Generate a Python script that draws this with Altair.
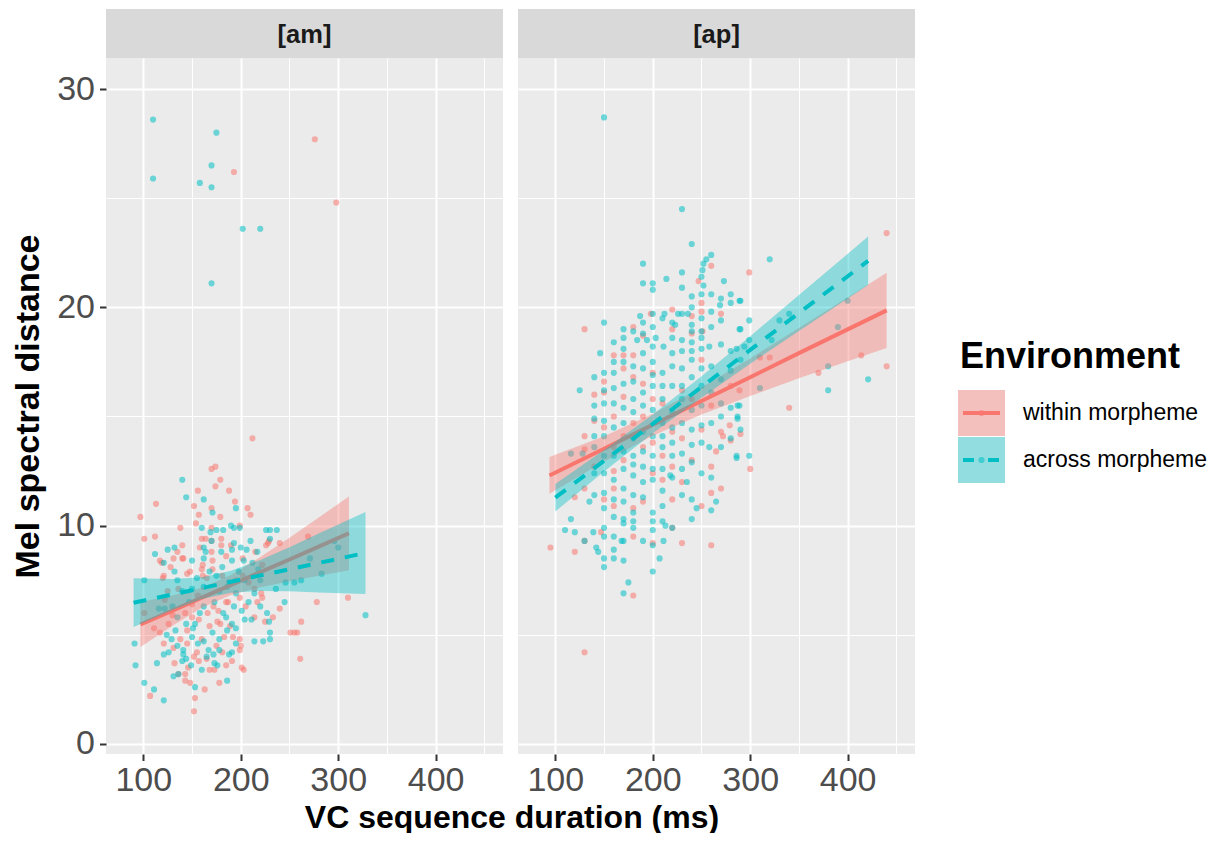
import altair as alt
import pandas as pd

# ---------------- data ----------------
env_labels = ["within morpheme", "across morpheme"]
env_colors = ["#F8766D", "#00BFC4"]
panel_labels = ["[am]", "[ap]"]
x_ticks = [100, 150, 200, 250, 300, 350, 400, 450]
y_ticks = [0, 5, 10, 15, 20, 25, 30]

am_within_pts = [
    (212, 14.0), (170, 12.6), (174, 12.7), (179, 12.1), (174, 11.8), (156, 11.6), (188, 11.6),
    (113, 11.0), (152, 10.9), (194, 11.1), (170, 10.8), (207, 10.8), (157, 10.5), (179, 10.4),
    (210, 10.5), (97, 10.4), (154, 10.1), (138, 9.9), (112, 9.5), (101, 9.4), (140, 9.1),
    (160, 9.4), (164, 9.4), (170, 9.3), (180, 9.4), (180, 9.1), (170, 9.9), (199, 10.0),
    (190, 9.1), (229, 9.3), (226, 9.1), (240, 9.2), (269, 9.5), (170, 8.8),
    (276, 27.7), (193, 26.2), (298, 24.8),
    (119, 8.3), (131, 8.5), (141, 8.5), (171, 8.4), (128, 8.1), (121, 7.7), (145, 7.8),
    (160, 8.0), (171, 8.0), (161, 7.7), (181, 7.7), (202, 7.7), (222, 8.2), (233, 5.8),
    (240, 6.2), (278, 6.5), (310, 6.7), (262, 5.6), (251, 5.1), (255, 5.1), (258, 5.1),
    (261, 3.9), (101, 6.0), (111, 5.3), (121, 4.6), (131, 4.4), (117, 5.1), (126, 5.5),
    (145, 5.2), (157, 5.7), (168, 5.4), (179, 5.5), (176, 5.6), (189, 5.4), (192, 4.9),
    (199, 4.8), (200, 4.5), (199, 4.3), (183, 4.9), (181, 4.2), (155, 4.2), (157, 3.8),
    (152, 4.0), (132, 3.7), (146, 3.5), (168, 3.4), (173, 3.4), (191, 3.8), (201, 3.5),
    (203, 3.4), (136, 3.2), (143, 3.2), (143, 2.9), (148, 2.8), (178, 2.8), (163, 2.5),
    (107, 2.2), (153, 2.1), (152, 1.5), (165, 3.9), (138, 4.8), (177, 6.1), (150, 5.8),
    (214, 5.8), (217, 6.5), (225, 5.6), (222, 6.7), (221, 6.9), (185, 6.5), (143, 6.0),
    (117, 8.4), (120, 7.6), (140, 8.5), (148, 7.9), (161, 8.2), (202, 8.5), (208, 7.4),
    (214, 7.1), (228, 9.2), (199, 6.7), (187, 6.5), (166, 6.0), (156, 6.8), (136, 7.1),
    (122, 6.6),
    (125, 7.0), (135, 8.8), (150, 6.4), (158, 9.0), (165, 7.6), (172, 6.3), (185, 8.6),
    (195, 7.5), (205, 6.3), (215, 8.8), (185, 3.6), (160, 4.8), (130, 5.9), (145, 4.6),
    (175, 4.5),
]
am_across_pts = [
    (140, 12.1), (144, 11.3), (162, 11.2), (171, 10.6), (195, 10.8), (160, 9.9), (169, 9.7),
    (175, 9.8), (182, 9.8), (190, 10.0), (193, 9.9), (199, 9.9), (226, 9.8), (230, 9.8),
    (237, 9.8), (170, 9.3), (210, 9.3), (193, 9.2), (132, 9.0), (162, 9.0), (200, 9.0),
    (206, 8.9), (191, 8.9), (164, 8.8), (112, 8.7), (180, 8.8), (217, 8.8), (230, 9.4),
    (296, 9.3), (300, 9.0),
    (110, 28.6), (175, 28.0), (170, 26.5), (110, 25.9), (158, 25.7), (170, 25.5),
    (202, 23.6), (220, 23.6), (170, 21.1),
    (121, 8.3), (132, 7.9), (150, 8.4), (162, 8.5), (181, 8.1), (191, 8.4), (203, 8.4),
    (212, 8.3), (101, 7.5), (135, 7.5), (155, 7.6), (175, 7.7), (188, 7.4), (204, 7.5),
    (220, 7.5), (246, 7.4), (255, 7.4), (262, 7.5), (271, 8.5), (283, 7.8), (91, 4.6),
    (92, 3.6), (101, 2.8), (111, 2.5), (121, 2.0), (114, 3.7), (121, 4.1), (126, 4.2),
    (131, 3.1), (136, 3.2), (141, 4.3), (140, 3.8), (144, 3.9), (149, 3.6), (153, 2.6),
    (141, 4.1), (129, 4.8), (124, 5.0), (133, 5.2), (144, 5.5), (151, 5.3), (156, 4.6),
    (162, 4.7), (165, 4.0), (167, 4.3), (172, 4.1), (173, 3.7), (176, 3.6), (171, 5.1),
    (178, 4.8), (186, 5.2), (191, 5.5), (195, 5.3), (188, 4.1), (191, 4.2), (186, 2.9),
    (214, 4.7), (223, 4.7), (230, 4.8), (230, 5.1), (229, 5.6), (227, 6.0), (220, 6.3),
    (211, 5.7), (204, 5.7), (201, 6.1), (193, 6.3), (182, 6.0), (173, 6.5), (162, 6.3),
    (153, 5.5), (147, 6.5), (135, 5.8), (122, 6.2), (116, 6.2), (130, 6.3), (195, 6.9),
    (214, 6.9), (236, 7.1), (245, 6.5), (162, 7.2), (186, 7.2), (328, 5.9),
    (125, 8.9), (140, 7.0), (150, 7.1), (158, 6.0), (168, 7.9), (178, 7.0), (185, 5.8),
    (198, 7.9), (208, 6.5), (218, 8.0), (160, 3.4), (178, 4.3), (150, 4.9), (135, 4.5),
    (195, 4.6),
]
ap_within_pts = [
    (260, 21.9), (247, 21.2), (250, 20.2), (250, 19.8), (240, 19.6), (198, 19.7), (220, 19.9),
    (270, 19.7), (180, 19.1), (220, 19.0), (240, 18.8), (251, 18.9), (190, 18.7), (130, 19.0),
    (160, 17.8), (170, 17.8), (180, 17.8),
    (150, 16.6), (150, 16.1), (160, 15.0), (160, 13.6), (160, 11.7), (160, 10.9), (170, 17.2),
    (170, 15.9), (170, 14.1), (180, 16.8), (180, 14.7), (180, 10.8), (190, 16.5), (190, 13.6),
    (190, 11.1), (200, 15.8), (200, 12.4), (210, 12.1), (210, 13.2), (220, 14.3), (220, 12.7),
    (230, 16.2), (230, 12.0), (240, 13.0), (250, 14.4), (260, 12.7), (260, 11.5), (270, 11.7),
    (272, 14.1), (265, 13.4), (130, 14.1), (130, 13.5), (130, 11.7), (120, 11.3), (140, 14.8),
    (140, 12.7), (150, 11.2), (250, 10.9), (270, 14.3), (279, 14.6),
    (95, 9.0), (120, 8.8), (130, 9.3), (147, 9.7), (180, 9.5), (220, 9.9), (230, 9.2),
    (260, 9.1), (200, 9.2), (180, 6.8), (130, 4.2),
    (440, 23.4), (299, 21.6), (310, 17.7), (320, 17.7), (340, 15.4), (370, 17.0), (414, 17.8),
    (440, 17.3), (290, 14.2), (300, 12.6), (289, 16.2), (280, 13.9),
    (140, 16.0), (170, 13.0), (190, 15.0), (200, 17.0), (210, 15.6), (230, 14.0), (240, 15.8),
    (250, 17.6), (260, 15.5), (280, 16.4), (150, 14.5), (160, 12.5), (220, 11.2), (200, 13.8),
]
ap_across_pts = [
    (150, 28.7),
    (230, 24.5), (240, 22.9), (260, 22.4), (255, 22.2), (252, 22.0), (251, 21.7), (250, 21.4),
    (190, 22.0), (214, 21.3), (190, 21.1), (200, 21.1), (200, 20.8), (230, 20.9), (252, 21.0),
    (273, 21.2), (240, 20.5), (250, 20.6), (260, 20.6), (270, 20.4), (280, 20.6), (280, 20.2),
    (290, 20.3), (269, 20.1), (240, 20.0), (150, 19.3), (187, 19.6), (200, 19.7), (212, 19.7),
    (226, 19.7), (230, 19.7), (236, 19.7), (250, 19.5), (270, 19.4), (190, 19.3), (220, 19.3),
    (223, 19.2), (240, 19.2), (260, 19.1), (170, 19.0), (200, 19.1), (240, 18.9), (250, 18.9),
    (290, 19.0), (170, 18.6), (184, 18.5), (194, 18.5), (203, 18.6), (211, 18.2), (230, 18.5),
    (240, 18.4), (250, 18.6), (270, 18.3), (170, 18.1), (200, 18.2), (146, 17.9), (190, 17.9),
    (220, 17.9), (230, 18.0), (240, 18.0), (250, 18.1), (258, 18.2), (280, 18.0),
    (125, 16.2), (140, 16.8), (140, 14.9), (140, 14.1), (140, 13.6), (140, 11.4), (150, 16.2),
    (150, 15.6), (150, 14.1), (150, 13.2), (150, 12.4), (150, 11.5), (150, 10.8), (160, 17.5),
    (160, 17.0), (160, 16.3), (160, 13.2), (160, 12.1), (160, 11.2), (170, 17.5), (170, 16.5),
    (170, 14.7), (170, 12.6), (170, 11.7), (170, 11.1), (180, 17.3), (180, 15.8), (180, 15.2),
    (180, 14.0), (180, 13.2), (180, 12.3), (180, 11.4), (190, 17.2), (190, 16.1), (190, 15.5),
    (190, 14.3), (190, 12.7), (190, 12.0), (200, 17.5), (200, 16.4), (200, 15.3), (200, 14.1),
    (200, 13.2), (200, 12.1), (210, 17.0), (210, 15.8), (210, 14.7), (210, 13.6), (210, 12.6),
    (210, 10.9), (220, 17.3), (220, 16.4), (220, 15.2), (220, 13.8), (220, 13.2), (230, 17.2),
    (230, 15.8), (230, 14.7), (230, 13.3), (240, 16.8), (240, 15.3), (240, 14.4), (240, 12.9),
    (240, 11.2), (250, 17.2), (250, 15.5), (250, 13.8), (260, 17.3), (260, 14.7), (260, 10.7),
    (270, 15.6), (270, 15.0), (280, 14.0), (286, 13.1), (287, 14.9), (287, 15.5), (258, 13.6),
    (265, 11.1), (235, 12.0), (245, 10.8), (218, 12.3), (116, 10.3), (116, 13.3), (128, 13.3),
    (135, 11.1),
    (110, 9.8), (120, 9.7), (139, 9.7), (130, 9.3), (150, 9.9), (160, 9.5), (170, 9.3),
    (180, 9.9), (180, 10.2), (190, 9.3), (200, 9.8), (200, 9.1), (210, 10.2), (213, 10.0),
    (220, 9.9), (240, 10.3), (211, 9.3), (142, 9.0), (144, 8.8), (160, 8.9), (150, 8.5),
    (160, 8.5), (170, 8.4), (150, 8.1), (207, 8.5), (200, 7.9), (175, 7.4), (170, 6.9),
    (168, 9.3),
    (320, 22.2), (289, 20.3), (299, 19.4), (289, 19.0), (299, 18.5), (294, 18.2), (286, 18.1),
    (322, 18.5), (330, 19.4), (340, 19.7), (400, 20.3), (390, 19.1), (380, 17.3), (380, 16.2),
    (421, 16.7), (310, 16.3), (289, 15.5), (287, 15.0), (290, 14.4), (286, 13.2), (299, 13.2),
    (140, 15.5), (140, 12.4), (150, 17.0), (150, 14.8), (160, 14.5), (160, 15.6), (160, 10.4),
    (170, 13.4), (170, 15.4), (170, 10.3), (180, 16.6), (180, 12.8), (180, 10.6), (190, 13.4),
    (190, 11.3), (190, 18.8), (200, 16.9), (200, 12.6), (200, 10.6), (210, 16.4), (210, 14.1),
    (210, 11.6), (220, 14.5), (220, 12.2), (220, 18.6), (230, 16.4), (230, 12.6), (230, 11.4),
    (240, 17.6), (240, 13.7), (250, 16.4), (250, 12.4), (250, 14.6), (260, 16.1), (260, 12.2),
    (270, 13.6), (270, 16.7), (280, 15.4), (280, 17.1), (290, 17.6), (160, 18.4), (180, 18.9),
    (210, 19.5), (230, 21.6), (260, 19.8), (200, 10.2), (170, 10.1), (150, 9.5),
]

# fitted regression lines with their 95% confidence bands
am_within_fx = [97, 130, 160, 190, 220, 250, 280, 311]
am_within_fit = [5.47, 6.11, 6.70, 7.28, 7.87, 8.45, 9.04, 9.65]
am_within_lo = [4.44, 5.42, 6.24, 6.82, 7.18, 7.45, 7.71, 7.96]
am_within_hi = [6.50, 6.80, 7.16, 7.74, 8.56, 9.45, 10.37, 11.34]

am_across_fx = [90, 130, 160, 190, 220, 250, 280, 328]
am_across_fit = [6.47, 6.85, 7.14, 7.43, 7.72, 8.00, 8.29, 8.75]
am_across_lo = [5.36, 6.14, 6.64, 6.93, 7.01, 6.99, 6.94, 6.87]
am_across_hi = [7.59, 7.56, 7.64, 7.93, 8.43, 9.01, 9.64, 10.63]

ap_within_fx = [94, 150, 200, 250, 300, 350, 400, 440]
ap_within_fit = [12.30, 13.52, 14.62, 15.71, 16.80, 17.90, 18.99, 19.86]
ap_within_lo = [11.46, 12.94, 14.12, 15.09, 15.94, 16.75, 17.53, 18.14]
ap_within_hi = [13.14, 14.10, 15.12, 16.33, 17.66, 19.05, 20.45, 21.58]

ap_across_fx = [100, 150, 200, 250, 300, 350, 421]
ap_across_fit = [11.28, 12.97, 14.66, 16.35, 18.05, 19.74, 22.13]
ap_across_lo = [10.65, 12.48, 14.23, 15.86, 17.42, 18.92, 21.02]
ap_across_hi = [11.91, 13.46, 15.09, 16.84, 18.68, 20.56, 23.24]

# ---------------- chart ----------------
FONT = "Liberation Sans"
PW, PH = 397, 696
STRIP_H = 49
PT_SIZE = 38
PT_OPACITY = 0.55
LINE_W = 4.0
DASH = [13, 11]

xscale = alt.Scale(domain=[61.7, 469.1], nice=False, zero=False)
yscale = alt.Scale(domain=[-0.46, 31.42], nice=False, zero=False)
cscale = alt.Scale(domain=env_labels, range=env_colors)


def make_axes(first):
    xkw = dict(
        values=x_ticks,
        labelExpr="datum.value % 100 === 0 ? datum.label : ''",
        gridWidth={"condition": {"test": "datum.value % 100 === 0", "value": 2}, "value": 1},
        tickOpacity={"condition": {"test": "datum.value % 100 === 0", "value": 1}, "value": 0},
        labelOverlap=False,
        labelFlush=False,
        labelPadding=3,
    )
    if first:
        xkw.update(title="VC sequence duration (ms)", titleX=405.5, titleY=48,
                   titleAlign="center", titleBaseline="top", titleFontSize=32)
    else:
        xkw.update(title=None)
    ykw = dict(
        values=y_ticks,
        gridWidth={"condition": {"test": "datum.value % 10 === 0", "value": 2}, "value": 1},
        labelOverlap=False,
        labelFlush=False,
        labelPadding=5,
    )
    if first:
        ykw.update(
            title="Mel spectral distance",
            titlePadding=11,
            labelExpr="datum.value % 10 === 0 ? datum.label : ''",
            tickOpacity={"condition": {"test": "datum.value % 10 === 0", "value": 1}, "value": 0},
        )
    else:
        ykw.update(title=None, labels=False, ticks=False)
    return alt.Axis(**xkw), alt.Axis(**ykw)


def pts_frame(pts_w, pts_a):
    rows = [{"x": x, "y": y, "env": env_labels[0]} for x, y in pts_w]
    rows += [{"x": x, "y": y, "env": env_labels[1]} for x, y in pts_a]
    return pd.DataFrame(rows)


def fit_frame(fx, fit, lo, hi):
    return pd.DataFrame({"x": fx, "fit": fit, "lo": lo, "hi": hi})


def panel(label, pts_w, pts_a, fw, fa, first):
    xa, ya = make_axes(first)
    X = lambda f: alt.X(f, type="quantitative", scale=xscale, axis=xa)
    Y = lambda f: alt.Y(f, type="quantitative", scale=yscale, axis=ya)

    lab = pd.DataFrame({"label": [label]})
    strip = alt.Chart(lab).mark_rect(color="#D9D9D9").encode(
        x=alt.value(0), x2=alt.value(PW), y=alt.value(-STRIP_H), y2=alt.value(0))
    strip_txt = alt.Chart(lab).mark_text(
        font=FONT, fontSize=25.5, fontWeight="bold", color="#1A1A1A",
        align="center", baseline="middle").encode(
        x=alt.value(PW / 2), y=alt.value(-STRIP_H / 2 + 1), text="label:N")

    points = alt.Chart(pts_frame(pts_w, pts_a)).mark_circle(
        size=PT_SIZE, opacity=PT_OPACITY).encode(
        x=X("x"), y=Y("y"), color=alt.Color("env:N", scale=cscale, legend=None))

    dw = fit_frame(*fw)
    da = fit_frame(*fa)
    band_w = alt.Chart(dw).mark_area(color=env_colors[0], opacity=0.4).encode(
        x=X("x"), y=Y("lo"), y2="hi")
    line_w = alt.Chart(dw).mark_line(color=env_colors[0], strokeWidth=LINE_W).encode(
        x=X("x"), y=Y("fit"))
    band_a = alt.Chart(da).mark_area(color=env_colors[1], opacity=0.4).encode(
        x=X("x"), y=Y("lo"), y2="hi")
    line_a = alt.Chart(da).mark_line(color=env_colors[1], strokeWidth=LINE_W,
                                     strokeDash=DASH).encode(
        x=X("x"), y=Y("fit"))

    return alt.layer(strip, strip_txt, points, band_w, line_w, band_a, line_a).properties(
        width=PW, height=PH, view=alt.ViewBackground(fill="#EBEBEB", stroke=None))


p_am = panel(panel_labels[0], am_within_pts, am_across_pts,
             (am_within_fx, am_within_fit, am_within_lo, am_within_hi),
             (am_across_fx, am_across_fit, am_across_lo, am_across_hi), True)
p_ap = panel(panel_labels[1], ap_within_pts, ap_across_pts,
             (ap_within_fx, ap_within_fit, ap_within_lo, ap_within_hi),
             (ap_across_fx, ap_across_fit, ap_across_lo, ap_across_hi), False)

# ---------------- legend ----------------
KX, KW, KH = 28, 47, 46
KY = [332, 379]
leg_layers = []
title_df = pd.DataFrame({"t": ["Environment"]})
leg_layers.append(alt.Chart(title_df).mark_text(
    font=FONT, fontSize=36, fontWeight="bold", color="black", align="left",
    baseline="alphabetic").encode(x=alt.value(30), y=alt.value(310), text="t:N"))
for i, env in enumerate(env_labels):
    d = pd.DataFrame({"env": [env]})
    ky = KY[i]
    leg_layers.append(alt.Chart(d).mark_rect(color="#F2F2F2").encode(
        x=alt.value(KX), x2=alt.value(KX + KW), y=alt.value(ky), y2=alt.value(ky + KH)))
    leg_layers.append(alt.Chart(d).mark_rect(color=env_colors[i], opacity=0.4).encode(
        x=alt.value(KX), x2=alt.value(KX + KW), y=alt.value(ky), y2=alt.value(ky + KH)))
    leg_layers.append(alt.Chart(d).mark_circle(size=PT_SIZE, opacity=PT_OPACITY,
                                               color=env_colors[i]).encode(
        x=alt.value(KX + KW / 2), y=alt.value(ky + KH / 2)))
    rule_kw = dict(color=env_colors[i], strokeWidth=LINE_W)
    if i == 1:
        rule_kw["strokeDash"] = [11, 14]
    leg_layers.append(alt.Chart(d).mark_rule(**rule_kw).encode(
        x=alt.value(KX + 5), x2=alt.value(KX + KW - 5),
        y=alt.value(ky + KH / 2), y2=alt.value(ky + KH / 2)))
    leg_layers.append(alt.Chart(d).mark_text(
        font=FONT, fontSize=23, color="black", align="left", baseline="middle").encode(
        x=alt.value(93), y=alt.value(ky + KH / 2), text="env:N"))

legend = alt.layer(*leg_layers).properties(
    width=240, height=PH, view=alt.ViewBackground(fill=None, stroke=None))

chart = alt.hconcat(p_am, p_ap, legend, spacing=15, bounds="flush").properties(
    padding={"left": 3, "top": 1, "right": 0, "bottom": 0},
    background="white",
).configure_axis(
    domain=False,
    gridColor="white",
    tickColor="#333333",
    tickWidth=2,
    tickSize=6.5,
    labelFont=FONT,
    labelFontSize=34,
    labelColor="#4D4D4D",
    titleFont=FONT,
    titleFontSize=34,
    titleFontWeight="bold",
    titleColor="black",
    titlePadding=10,
).configure_view(stroke=None)

chart.save("out.html", embed_options={"renderer": "svg", "actions": False})
